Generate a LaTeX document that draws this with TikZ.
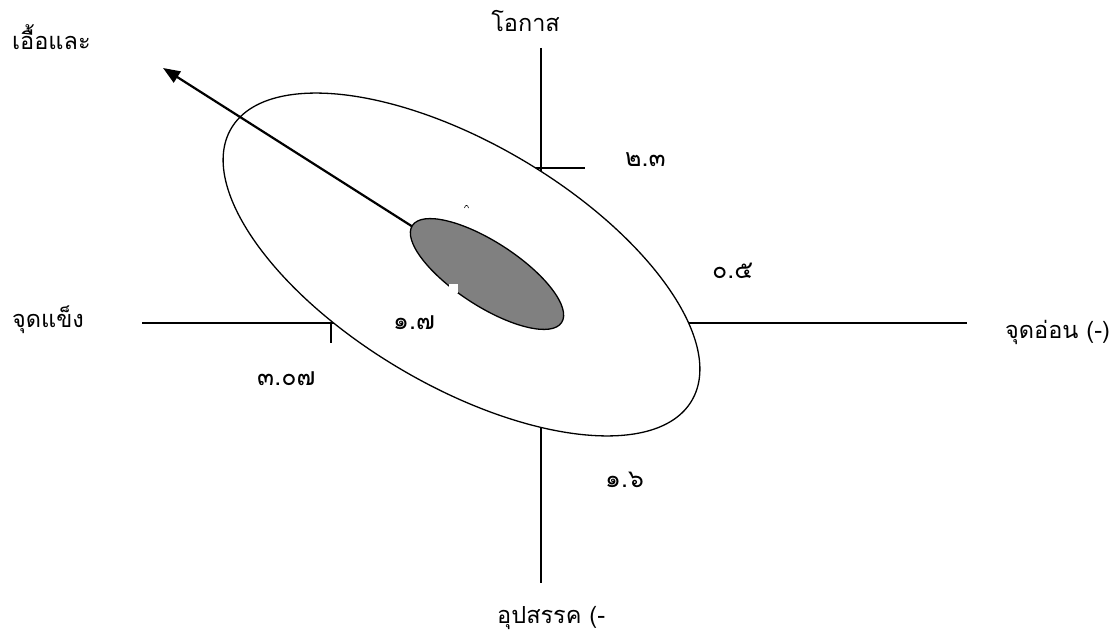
\documentclass[tikz,border=0pt]{standalone}
\usepackage{fontspec}
\usetikzlibrary{shapes.geometric,arrows.meta}
\newfontfamily\thaifont[Script=Thai]{Loma}
\definecolor{midgray}{RGB}{128,128,128}
\tikzset{
  axisline/.style={line width=1.4pt},
  lbl/.style={font=\thaifont\fontsize{23.5}{28}\selectfont, inner sep=0pt, anchor=base west},
  num/.style={font=\thaifont\fontsize{25}{30}\selectfont, inner sep=0pt, anchor=base west},
  bigell/.style={ellipse, draw, line width=1.3pt, fill=white, inner sep=0pt},
  smallell/.style={ellipse, draw, line width=1.3pt, fill=midgray, inner sep=0pt},
}
\begin{document}
\begin{tikzpicture}[x=1pt,y=-1pt]
\useasboundingbox (0,0) rectangle (1116,636);
% axes
\coordinate (vtop) at (541,48);
\coordinate (vbot) at (541,583);
\coordinate (hleft) at (142,323);
\coordinate (hright) at (967,323);
\draw[axisline] (vtop) -- (vbot);
\draw[axisline] (hleft) -- (hright);
% ticks
\coordinate (t1a) at (532,168);
\coordinate (t1b) at (585,168);
\coordinate (t2a) at (331,323);
\coordinate (t2b) at (331,343);
\draw[axisline] (t1a) -- (t1b);
\draw[axisline] (t2a) -- (t2b);
% big ellipse
\node[bigell, minimum width=535pt, minimum height=242pt, rotate=-30.6] (outer) at (461.5,264.5) {};
% arrow
\node[inner sep=0pt, minimum size=0pt] (inner-c) at (487,274) {};
\coordinate (tip) at (163,68);
\draw[line width=2.2pt, -{Triangle[length=17pt,width=13pt]}] (inner-c.center) -- (tip);
% inner gray ellipse
\node[smallell, minimum width=178pt, minimum height=64pt, rotate=-33] (inner) at (487,274) {};
% white notch
\fill[white] (449,284) rectangle (458,293);
% tiny mark
\draw[line width=0.6pt] (464.5,208) .. controls (465,204.5) and (468,204.5) .. (468.5,208);
% labels
\node[lbl] (l1) at (12,50) {เอื้อและ};
\node[lbl, anchor=base east] (l2) at (560,32) {โอกาส};
\node[lbl] (l3) at (12,327) {จุดแข็ง};
\node[lbl] (l4) at (1005,338) {จุดอ่อน (-)};
\node[lbl] (l5) at (497,623) {อุปสรรค (-};
% numbers
\node[num] (n1) at (625,167) {๒.๓};
\node[num] (n2) at (712,279) {๐.๕};
\node[num] (n3) at (605,487) {๑.๖};
\node[num] (n4) at (393,329) {๑.๗};
\node[num] (n5) at (257,385) {๓.๐๗};
\end{tikzpicture}
\end{document}
